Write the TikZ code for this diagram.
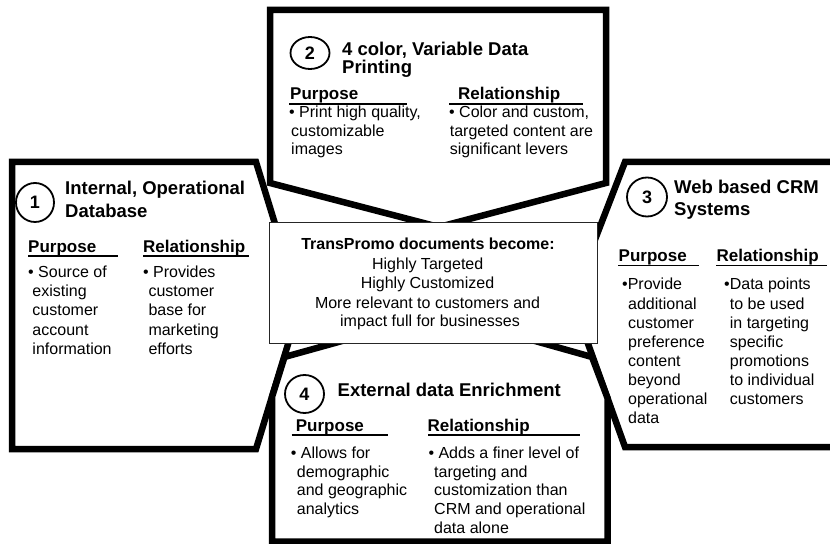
\documentclass[tikz,border=0pt]{standalone}
\usepackage{fontspec}
\setmainfont{Liberation Sans}
\usetikzlibrary{shapes.geometric}

\tikzset{
  panel/.style={draw=black, line width=6.5bp, fill=white, line join=miter},
  hub/.style={rectangle, draw=black!85, line width=1bp, fill=white, inner sep=0pt},
  numring/.style={ellipse, draw=black, line width=1.8bp, inner sep=0pt,
    font=\bfseries\fontsize{18bp}{20bp}\selectfont},
  ttl/.style={anchor=base west, inner sep=0pt, font=\bfseries\fontsize{18.5bp}{22bp}\selectfont},
  hdr/.style={anchor=base west, inner sep=0pt, font=\bfseries\fontsize{17bp}{20bp}\selectfont},
  body/.style={anchor=base west, inner sep=0pt, font=\fontsize{16bp}{19bp}\selectfont},
  hubtxt/.style={anchor=base, inner sep=0pt, font=\fontsize{16bp}{19bp}\selectfont},
  uline/.style={line width=1.6bp},
}

% continuation lines of a bulleted column: prefix, x, first baseline, step, lines
\newcommand\bodylines[5]{%
  \foreach \tl [count=\k] in {#5}{%
    \node[body] (#1\k) at ({#2},{#3+(\k-1)*#4}) {\tl};
  }%
}

\begin{document}
\begin{tikzpicture}[x=1bp, y=-1bp]
\useasboundingbox (0,0) rectangle (830,544);
\clip (0,0) rectangle (830,544);

% the four arrow-shaped panels pointing at the hub
\draw[panel] (12,162) -- (256,162) -- (300,305) -- (256,449) -- (12,449) -- cycle;
\draw[panel] (625,162) -- (845,162) -- (845,447) -- (625,447) -- (572,299) -- cycle;
\draw[panel] (272,541.5) -- (272,397) -- (284.5,357) -- (439,314) -- (592,357)
             -- (607.5,398) -- (607.5,541.5) -- cycle;
\draw[panel] (270,10) -- (606,10) -- (606,183) -- (439,227) -- (270,183) -- cycle;

% central hub
\node[hub, minimum width=328bp, minimum height=120bp] (hub) at (433,283) {};
\node[hubtxt, font=\bfseries\fontsize{16bp}{19bp}\selectfont] (h1) at (428,250) {TransPromo documents become:};
\node[hubtxt] (h2) at (427.7,270) {Highly Targeted};
\node[hubtxt] (h3) at (427.5,289) {Highly Customized};
\node[hubtxt] (h4) at (427.5,308.3) {More relevant to customers and};
\node[hubtxt] (h5) at (430,326.7) {impact full for businesses};

% panel 1
\node[numring, minimum width=38bp, minimum height=39bp] (n1) at (35,202.5) {1};
\node[ttl] (t1a) at (65,195) {Internal, Operational};
\node[ttl] (t1b) at (65,217.3) {Database};
\node[hdr] (p1) at (28,252.7) {Purpose};
\draw[uline] (28,256.3) -- (118,256.3);
\node[hdr] (r1) at (143,252.7) {Relationship};
\draw[uline] (143,256.3) -- (249,256.3);
\node[body] (p1b) at (28,277.7) {• Source of};
\bodylines{p1l}{32.3}{296.8}{19.15}{existing, customer, account, information}
\node[body] (r1b) at (143,277.7) {• Provides};
\bodylines{r1l}{148.3}{296.8}{19.15}{customer, base for, marketing, efforts}

% panel 2
\node[numring, minimum width=39bp, minimum height=32bp] (n2) at (310,53) {2};
\node[ttl] (t2a) at (342,56) {4 color, Variable Data};
\node[ttl] (t2b) at (342,73.5) {Printing};
\node[hdr] (p2) at (290,100) {Purpose};
\draw[uline] (289,104.3) -- (407,104.3);
\node[hdr] (r2) at (458,100) {Relationship};
\draw[uline] (449,104.3) -- (583,104.3);
\node[body] (p2b) at (289,118) {• Print high quality,};
\bodylines{p2l}{291}{136.5}{18.5}{customizable, images}
\node[body] (r2b) at (449,118) {• Color and custom,};
\bodylines{r2l}{449.7}{136.5}{18.5}{targeted content are, significant levers}

% panel 3
\node[numring, minimum width=40bp, minimum height=39bp] (n3) at (647,197) {3};
\node[ttl] (t3a) at (674,194) {Web based CRM};
\node[ttl] (t3b) at (674,216) {Systems};
\node[hdr] (p3) at (618.5,261.7) {Purpose};
\draw[uline] (618,265.5) -- (699,265.5);
\node[hdr] (r3) at (716.5,261.7) {Relationship};
\draw[uline] (716,265.5) -- (827,265.5);
\node[body] (p3b) at (622,290) {•Provide};
\bodylines{p3l}{628}{309.1}{19.1}{additional, customer, preference, content, beyond, operational, data}
\node[body] (r3b) at (724,290) {•Data points};
\bodylines{r3l}{729.7}{309.1}{19.1}{to be used, in targeting, specific, promotions, to individual, customers}

% panel 4
\node[numring, minimum width=39bp, minimum height=38bp] (n4) at (304.5,394) {4};
\node[ttl] (t4) at (337.5,396.7) {External data Enrichment};
\node[hdr] (p4) at (295.7,431.7) {Purpose};
\draw[uline] (291.7,434.8) -- (388.3,434.8);
\node[hdr] (r4) at (427.5,431.7) {Relationship};
\draw[uline] (428.3,434.8) -- (580,434.8);
\node[body] (p4b) at (290.7,458.3) {• Allows for};
\bodylines{p4l}{296.7}{477}{18.8}{demographic, and geographic, analytics}
\node[body] (r4b) at (428.3,458.3) {• Adds a finer level of};
\bodylines{r4l}{434}{477}{18.8}{targeting and, customization than, CRM and operational, data alone}
\end{tikzpicture}
\end{document}
